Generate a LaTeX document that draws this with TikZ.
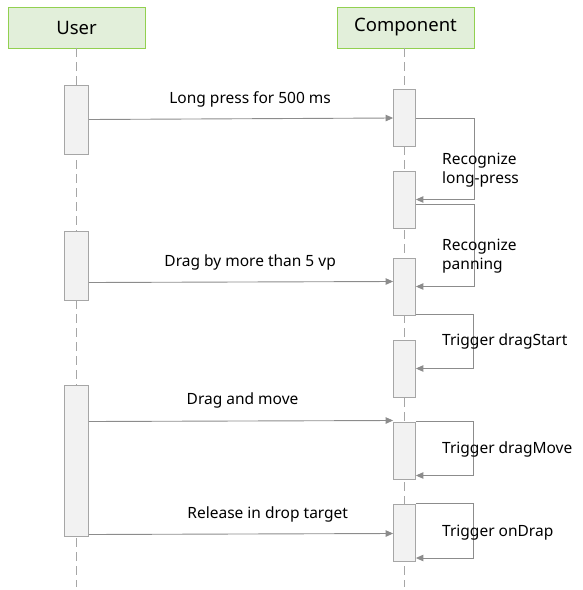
\documentclass[tikz,border=0pt]{standalone}
\usepackage{fontspec}
\setmainfont{Noto Sans}
\usetikzlibrary{arrows.meta, positioning}

\definecolor{headfill}{HTML}{E2EFDA}
\definecolor{headline}{HTML}{92D050}
\definecolor{actfill}{HTML}{F2F2F2}
\definecolor{actline}{HTML}{A6A6A6}
\definecolor{msgline}{HTML}{8C8C8C}

\begin{document}
\begin{tikzpicture}[x = 1pt, y = -1pt,
    head/.style = {draw=headline, fill=headfill, line width=0.9pt,
                   minimum width=137pt, minimum height=41pt,
                   font=\fontsize{18.5}{20}\selectfont},
    act/.style  = {draw=actline, fill=actfill, line width=0.8pt, inner sep=0pt},
    uact/.style = {act, minimum width=24pt},
    cact/.style = {act, minimum width=22pt},
    life/.style = {draw=actline, line width=0.8pt, dash pattern=on 9pt off 5pt},
    msg/.style  = {draw=msgline, line width=0.9pt,
                   -{Triangle[length=7.5pt, width=6.5pt]}},
    lbl/.style  = {font=\fontsize{15.5}{19}\selectfont, inner sep=0pt},
    note/.style = {lbl, anchor=west, align=left}]

    \useasboundingbox (0,0) rectangle (582,590);

    \def\ux{76.5}
    \def\cx{404.5}

    % lanes
    \node[head] (user) at (76.5,27.5)  {\raisebox{-1.5pt}{User}};
    \node[head] (comp) at (405.5,27.5) {\raisebox{-1.5pt}{Component}};
    \coordinate (userend) at (\ux,587);
    \coordinate (compend) at (\cx,587);
    \draw[life] (user.south -| userend) -- (userend);
    \draw[life] (comp.south -| compend) -- (compend);

    % activations
    \node[uact, minimum height=69pt]  (u1) at (\ux,119.5) {};
    \node[uact, minimum height=69pt]  (u2) at (\ux,265.5) {};
    \node[uact, minimum height=151pt] (u3) at (\ux,460.5) {};

    \node[cact, minimum height=57pt] (c1) at (\cx,117.5) {};
    \node[cact, minimum height=57pt] (c2) at (\cx,199.5) {};
    \node[cact, minimum height=57pt] (c3) at (\cx,286.5) {};
    \node[cact, minimum height=57pt] (c4) at (\cx,368.5) {};
    \node[cact, minimum height=57pt] (c5) at (\cx,450.5) {};
    \node[cact, minimum height=57pt] (c6) at (\cx,532.5) {};

    % messages
    \draw[msg] (u1.east |- 0,119.5) -- (c1.west |- 0,118)
        node[lbl, pos=0.53, above=11pt] {Long press for 500 ms};
    \draw[msg] (u2.east |- 0,282.5) -- (c3.west |- 0,281.5)
        node[lbl, pos=0.53, above=11pt] {Drag by more than 5 vp};
    \draw[msg] (u3.east |- 0,421.5) -- (c5.west |- 0,420.5)
        node[lbl, pos=0.505, above=12pt] {Drag and move};
    \draw[msg] (u3.east |- 0,534.5) -- (c6.west |- 0,533.5)
        node[lbl, pos=0.588, above=11pt] {Release in drop target};

    % self calls
    \draw[msg] (c1.east |- 0,118) -- ++(59,0) |- (c2.east);
    \draw[msg] (c2.east |- 0,204) -- ++(59,0) |- (c3.east);
    \draw[msg] (c3.east |- 0,314) -- ++(58,0) |- (c4.east);
    \draw[msg] (c5.north east) -- ++(58,0) |- (c6.north east |- 0,475.5);
    \draw[msg] (c6.north east) -- ++(58,0) |- (c6.east |- 0,558);

    \node[note] (n1) at (442,170.5) {Recognize\\long-press};
    \node[note] (n2) at (442,256)   {Recognize\\panning};
    \node[note] (n3) at (442,341)   {Trigger dragStart};
    \node[note] (n4) at (442,449)   {Trigger dragMove};
    \node[note] (n5) at (442,533)   {Trigger onDrap};
\end{tikzpicture}
\end{document}
